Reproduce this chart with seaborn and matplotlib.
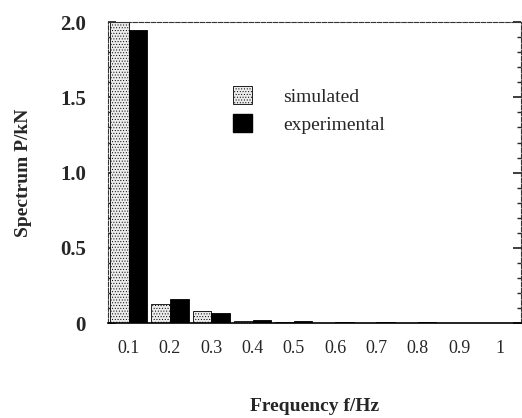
import matplotlib
matplotlib.use("Agg")
import matplotlib.pyplot as plt
import seaborn as sns
import pandas as pd
from matplotlib.patches import Patch
from matplotlib.ticker import MultipleLocator

freqs = ["0.1", "0.2", "0.3", "0.4", "0.5", "0.6", "0.7", "0.8", "0.9", "1"]
simulated = [2.0, 0.125, 0.08, 0.015, 0.01, 0.004, 0.004, 0.003, 0.003, 0.003]
experimental = [1.95, 0.16, 0.066, 0.02, 0.012, 0.006, 0.005, 0.005, 0.004, 0.004]
series_names = ["simulated", "experimental"]
yticks = [0, 0.5, 1.0, 1.5, 2.0]
ytick_labels = ["0", "0.5", "1.0", "1.5", "2.0"]

df = pd.DataFrame({"freq": freqs, "simulated": simulated, "experimental": experimental})
long = df.melt(id_vars="freq", var_name="series", value_name="value")

sns.set_theme(style="white")
plt.rcParams["font.family"] = ["Liberation Serif", "DejaVu Serif"]
plt.rcParams["hatch.linewidth"] = 0.4

fig = plt.figure(figsize=(5.22, 4.18), dpi=100)
ax = fig.add_axes([0.207, 0.227, 0.791, 0.72])

sns.barplot(data=long, x="freq", y="value", hue="series", order=freqs,
            hue_order=series_names, palette=["#d8d8d8", "black"],
            width=0.9, gap=0.0, edgecolor="black", linewidth=0.6,
            legend=False, ax=ax)

n = len(freqs)
for i, p in enumerate(ax.patches[:n]):
    p.set_hatch("......")
    p.set_facecolor("#ececec")

ax.set_xlim(-0.5, n - 0.5)
ax.set_ylim(0, 2.0)
ax.set_yticks(yticks)
ax.set_yticklabels(ytick_labels, fontsize=15, fontweight="bold")
ax.yaxis.set_minor_locator(MultipleLocator(0.1))
ax.tick_params(axis="x", labelsize=13, pad=12, direction="in", length=0, top=False)
ax.tick_params(axis="y", which="major", direction="in", length=6, right=True, left=True, pad=16)
ax.tick_params(axis="y", which="minor", direction="in", length=3, right=True, left=True)
for s in ax.spines.values():
    s.set_linewidth(0.8)
    s.set_color("#333333")
    s.set_linestyle((0, (4, 1.5)))
ax.spines["bottom"].set_linestyle("-")
ax.spines["bottom"].set_linewidth(1.2)
ax.spines["bottom"].set_color("black")

ax.set_xlabel("Frequency f/Hz", fontsize=14, fontweight="bold", labelpad=30)
ax.set_ylabel("Spectrum P/kN", fontsize=14, fontweight="bold", labelpad=20)

handles = [Patch(facecolor="#ececec", edgecolor="black", hatch="......", linewidth=0.6),
           Patch(facecolor="black", edgecolor="black")]
ax.legend(handles, series_names, loc="upper left", bbox_to_anchor=(0.26, 0.845),
          frameon=False, fontsize=14, handlelength=1.0, handleheight=1.0,
          handletextpad=1.6, labelspacing=0.45)

fig.savefig("out.png", dpi=100)
